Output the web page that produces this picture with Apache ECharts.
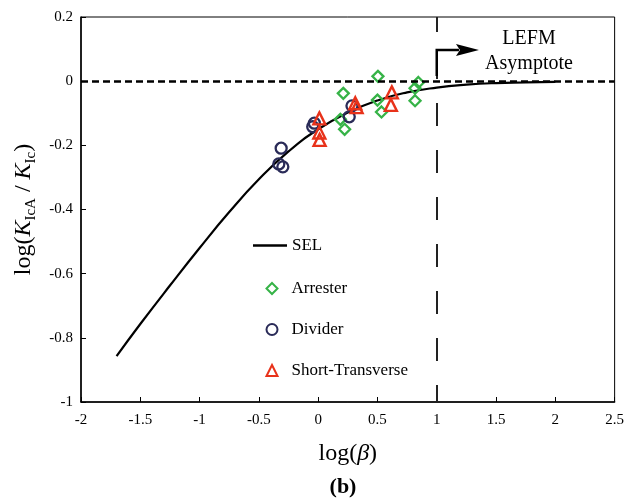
<!DOCTYPE html>
<html>
<head>
<meta charset="utf-8">
<script src="https://cdn.jsdelivr.net/npm/echarts@6/dist/echarts.min.js"></script>
<style>html,body{margin:0;padding:0;background:#fff}#c{width:627px;height:504px}</style>
</head>
<body>
<div id="c"></div>
<script>
// ---- data ----
const xTickLabels = [-2, -1.5, -1, -0.5, 0, 0.5, 1, 1.5, 2, 2.5];
const yTickLabels = [-1, -0.8, -0.6, -0.4, -0.2, 0, 0.2];
const selCurve = [[-1.7,-0.857],[-1.5,-0.757],[-1.25,-0.637],[-1,-0.52],[-0.75,-0.408],[-0.5,-0.306],[-0.25,-0.219],[0,-0.15],[0.25,-0.098],[0.5,-0.06],[0.75,-0.035],[1,-0.02],[1.25,-0.011],[1.5,-0.006],[1.75,-0.004],[2,-0.002]];
const arrester = [[0.212,-0.038],[0.187,-0.119],[0.223,-0.150],[0.504,0.015],[0.500,-0.059],[0.534,-0.096],[0.845,-0.004],[0.817,-0.022],[0.817,-0.061]];
const divider = [[-0.312,-0.209],[-0.332,-0.258],[-0.298,-0.267],[-0.032,-0.131],[-0.046,-0.142],[0.262,-0.111],[0.285,-0.077]];
const shortTransverse = [[0.010,-0.116],[0.010,-0.160],[0.012,-0.183],[0.313,-0.069],[0.324,-0.081],[0.621,-0.035],[0.613,-0.074]];
const asymptoteY = 0;
const lefmX = 1;
const arrowPts = [[1, 0.016], [1, 0.097], [1.356, 0.097]];
const seriesNames = ['SEL', 'Arrester', 'Divider', 'Short-Transverse'];
const colors = {arrester: '#36b347', divider: '#2a2b58', st: '#e8321a'};

const FONT = 'Liberation Serif, Times New Roman, serif';
const chart = echarts.init(document.getElementById('c'), null, {renderer: 'canvas'});

const legendText = {fontFamily: FONT, fontSize: 17, color: '#000', lineHeight: 17};
const option = {
  animation: false,
  backgroundColor: '#fff',
  grid: {left: 81, right: 10, top: 17, bottom: 102, show: true, borderColor: '#000', borderWidth: 1, backgroundColor: 'transparent', containLabel: false},
  xAxis: {
    type: 'value',
    min: xTickLabels[0], max: xTickLabels[xTickLabels.length - 1], interval: 0.5,
    axisLine: {show: true, onZero: false, lineStyle: {color: '#000', width: 1.5}},
    axisTick: {show: true, inside: true, length: 5, lineStyle: {color: '#000', width: 1}},
    splitLine: {show: false},
    axisLabel: {color: '#000', fontFamily: FONT, fontSize: 15, margin: 11, showMinLabel: true, showMaxLabel: true},
    name: '{a|log(}{b|β}{a|)}',
    nameLocation: 'middle', nameGap: 40,
    nameTextStyle: {rich: {a: {fontFamily: FONT, fontSize: 24, color: '#000'}, b: {fontFamily: FONT, fontSize: 24, fontStyle: 'italic', color: '#000'}}}
  },
  yAxis: {
    type: 'value',
    min: yTickLabels[0], max: yTickLabels[yTickLabels.length - 1], interval: 0.2,
    axisLine: {show: true, onZero: false, lineStyle: {color: '#000', width: 1.5}},
    axisTick: {show: true, inside: true, length: 5, lineStyle: {color: '#000', width: 1}},
    splitLine: {show: false},
    axisLabel: {color: '#000', fontFamily: FONT, fontSize: 15, margin: 8, showMinLabel: true, showMaxLabel: true},
    name: '{a|log(}{k|K}{s|IcA}{a| / }{k|K}{s|Ic}{a|)}',
    nameLocation: 'middle', nameGap: 30, nameRotate: 90,
    nameTextStyle: {rich: {
      a: {fontFamily: FONT, fontSize: 24, lineHeight: 24, verticalAlign: 'top', color: '#000'},
      k: {fontFamily: FONT, fontSize: 24, lineHeight: 24, verticalAlign: 'top', fontStyle: 'italic', color: '#000'},
      s: {fontFamily: FONT, fontSize: 15, lineHeight: 15, padding: [12, 0, 0, 0], verticalAlign: 'top', color: '#000'}
    }}
  },
  legend: [
    {data: [{name: seriesNames[0], icon: 'rect'}], orient: 'vertical', left: 253, top: 237, padding: 0, itemWidth: 34, itemHeight: 2.5,
     itemStyle: {color: '#000', borderWidth: 0},
     textStyle: legendText, selectedMode: false},
    {data: seriesNames.slice(1), orient: 'vertical', left: 265.5, top: 280, padding: 0, itemWidth: 11, itemHeight: 11, itemGap: 24,
     textStyle: Object.assign({padding: [0, 0, 0, 9]}, legendText), selectedMode: false}
  ],
  series: [
    {name: seriesNames[0], type: 'line', data: selCurve, smooth: true, showSymbol: false, symbol: 'none',
     lineStyle: {color: '#000', width: 2.2}, itemStyle: {color: '#000'}, z: 2,
     markLine: {silent: true, symbol: ['none', 'none'], label: {show: false},
       data: [
         {yAxis: asymptoteY, lineStyle: {color: '#000', width: 2.5, type: [7, 4]}},
         {xAxis: lefmX, lineStyle: {color: '#222', width: 2, type: [23, 24], dashOffset: 6}}
       ]}},
    {name: seriesNames[1], type: 'scatter', data: arrester, symbol: 'diamond', symbolSize: 11,
     itemStyle: {color: 'rgba(255,255,255,0)', borderColor: colors.arrester, borderWidth: 2.3, opacity: 1}, z: 3},
    {name: seriesNames[2], type: 'scatter', data: divider, symbol: 'circle', symbolSize: 11,
     itemStyle: {color: 'rgba(255,255,255,0)', borderColor: colors.divider, borderWidth: 2.3, opacity: 1}, z: 3},
    {name: seriesNames[3], type: 'scatter', data: shortTransverse, symbol: 'triangle', symbolSize: 12,
     itemStyle: {color: 'rgba(255,255,255,0)', borderColor: colors.st, borderWidth: 2.4, opacity: 1}, z: 4}
  ]
};
chart.setOption(option);

const p = arrowPts.map(pt => chart.convertToPixel({gridIndex: 0}, pt));
const tip = p[2];
chart.setOption({
  graphic: [
    {type: 'polyline', shape: {points: [p[0], p[1], [tip[0] - 20, tip[1]]]}, style: {stroke: '#000', lineWidth: 2.5, fill: null}, z: 10},
    {type: 'polygon', shape: {points: [tip, [tip[0] - 23, tip[1] - 6], [tip[0] - 19, tip[1]], [tip[0] - 23, tip[1] + 6]]}, style: {fill: '#000'}, z: 10},
    {type: 'text', x: 529, y: 39, style: {text: 'LEFM', fontFamily: FONT, fontSize: 20, fill: '#000', textAlign: 'center', textVerticalAlign: 'middle'}, z: 10},
    {type: 'text', x: 529, y: 64, style: {text: 'Asymptote', fontFamily: FONT, fontSize: 20, fill: '#000', textAlign: 'center', textVerticalAlign: 'middle'}, z: 10},
    {type: 'text', x: 343, y: 487, style: {text: '(b)', fontFamily: FONT, fontSize: 22, fontWeight: 'bold', fill: '#000', textAlign: 'center', textVerticalAlign: 'middle'}, z: 10}
  ]
});
</script>
</body>
</html>
